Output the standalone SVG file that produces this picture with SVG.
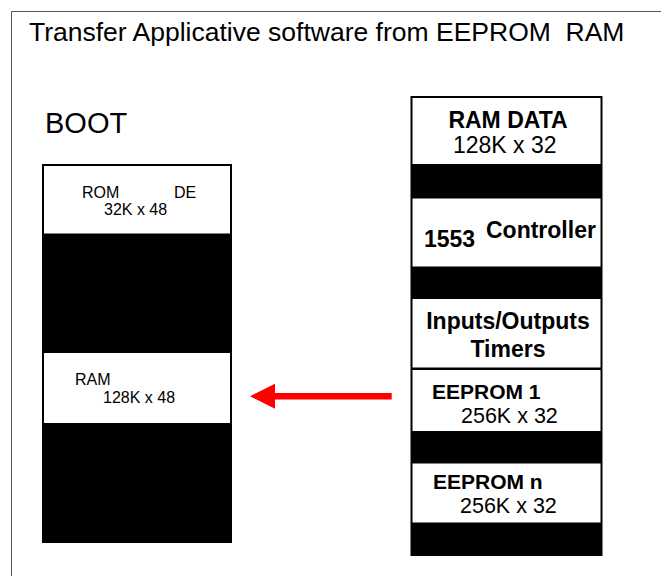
<svg xmlns="http://www.w3.org/2000/svg" width="661" height="576" viewBox="0 0 661 576">
<style>
  text { font-family: "Liberation Sans", Arial, sans-serif; fill: #000; }
  .title { font-size: 26.5px; }
  .boot { font-size: 29px; }
  .b23 { font-size: 23px; font-weight: bold; }
  .b21 { font-size: 21px; font-weight: bold; }
  .r21 { font-size: 21.5px; }
  .r23 { font-size: 23px; }
  .r16 { font-size: 16px; }
  .col { fill: #000; stroke: #000; stroke-width: 2; }
  .sec { fill: #fff; stroke: none; }
  .frame { fill: none; stroke: #555; stroke-width: 1; }
</style>
<defs>
  <marker id="head" viewBox="0 0 25 25" markerWidth="25" markerHeight="25" markerUnits="userSpaceOnUse" refX="0" refY="12.5" orient="auto">
    <path d="M0,0 L25,12.5 L0,25 z" fill="#ff0000"/>
  </marker>
</defs>
<rect x="0" y="0" width="661" height="576" fill="#fff"/>
<path class="frame" d="M11.5,576 V11.5 H661"/>
<text class="title" x="29" y="41" xml:space="preserve">Transfer Applicative software from EEPROM  RAM</text>
<text class="boot" x="45" y="133">BOOT</text>

<g id="boot-column">
  <rect class="col" x="43" y="165" width="188" height="377"/>
  <g id="rom">
    <rect class="sec" x="44" y="166" width="186" height="67.5"/>
    <text class="r16" x="82" y="198">ROM</text>
    <text class="r16" x="174" y="198">DE</text>
    <text class="r16" x="104" y="215">32K x 48</text>
  </g>
  <g id="boot-ram">
    <rect class="sec" x="44" y="353" width="186" height="70"/>
    <text class="r16" x="75" y="385">RAM</text>
    <text class="r16" x="103" y="403">128K x 48</text>
  </g>
</g>

<g id="app-column">
  <rect class="col" x="411.5" y="97" width="190" height="458"/>
  <g id="ram-data">
    <rect class="sec" x="412.5" y="98" width="188" height="66"/>
    <text class="b23" x="508" y="128" text-anchor="middle">RAM DATA</text>
    <text class="r23" x="453" y="153">128K x 32</text>
  </g>
  <g id="controller">
    <rect class="sec" x="412.5" y="198.5" width="188" height="68"/>
    <text class="b23" x="424" y="247">1553</text>
    <text class="b23" x="486" y="238">Controller</text>
  </g>
  <g id="io">
    <rect class="sec" x="412.5" y="299" width="188" height="68.5"/>
    <text class="b23" x="508" y="329" text-anchor="middle">Inputs/Outputs</text>
    <text class="b23" x="508" y="357" text-anchor="middle">Timers</text>
  </g>
  <g id="eeprom-1">
    <rect class="sec" x="412.5" y="370" width="188" height="61"/>
    <text class="b21" x="432" y="399">EEPROM 1</text>
    <text class="r21" x="461" y="423">256K x 32</text>
  </g>
  <g id="eeprom-n">
    <rect class="sec" x="412.5" y="463.5" width="188" height="59"/>
    <text class="b21" x="433" y="489">EEPROM n</text>
    <text class="r21" x="460" y="513">256K x 32</text>
  </g>
</g>

<g id="connectors">
  <line x1="391.7" y1="396.2" x2="275" y2="396.2" stroke="#ff0000" stroke-width="6.5" marker-end="url(#head)"/>
</g>
</svg>
